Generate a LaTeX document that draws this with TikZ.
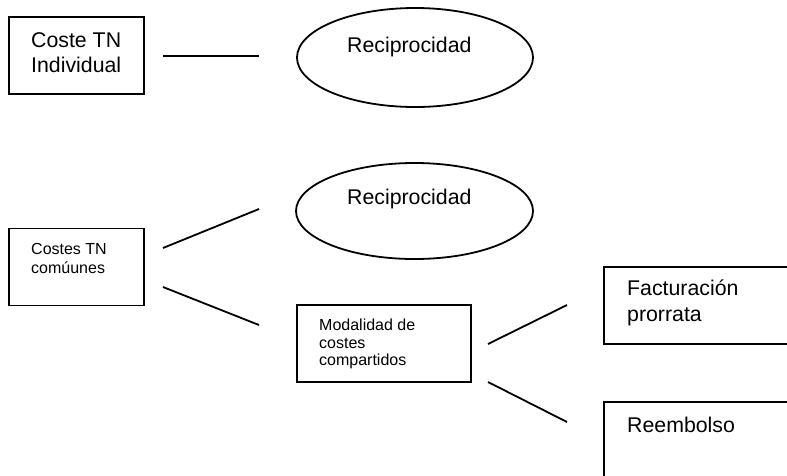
\documentclass[tikz,border=0pt]{standalone}
\usepackage{fontspec}
\setmainfont{Liberation Sans}
\usetikzlibrary{shapes.geometric}
\tikzset{
  box/.style={draw, line width=1.8pt, rectangle, inner sep=0pt},
  oval/.style={draw, line width=1.8pt, ellipse, inner sep=0pt},
  conn/.style={line width=1.8pt},
  big/.style={anchor=base west, inner sep=0pt, font=\fontsize{21.3}{24}\selectfont},
  small/.style={anchor=base west, inner sep=0pt, font=\fontsize{16}{18}\selectfont},
}
\begin{document}
\begin{tikzpicture}[x=1pt,y=-1pt]
\useasboundingbox (0,0) rectangle (787,475);
\clip (0,0) rectangle (787,475);
% shapes
\node[box, minimum width=135pt, minimum height=77pt] (b1) at (76.5,55.5) {};
\node[oval, minimum width=236pt, minimum height=99pt] (e1) at (415,57.5) {};
\node[box, minimum width=135pt, minimum height=77pt] (b2) at (76.5,267) {};
\node[oval, minimum width=237pt, minimum height=96pt] (e2) at (414.5,211) {};
\node[box, minimum width=174pt, minimum height=77pt] (b3) at (384,343.5) {};
\node[box, minimum width=200pt, minimum height=77pt] (b4) at (704,305.5) {};
\node[box, minimum width=200pt, minimum height=100pt] (b5) at (704,452) {};
% texts
\node[big] (t1a) at (31,47.5) {Coste TN};
\node[big] (t1b) at (31,72.5) {Individual};
\node[big] (t2) at (347,52) {Reciprocidad};
\node[big] (t3) at (347,204) {Reciprocidad};
\node[small] (t4a) at (31,254) {Costes TN};
\node[small] (t4b) at (31,273) {comúunes};
\node[small] (t5a) at (319,330) {Modalidad de};
\node[small] (t5b) at (319,348) {costes};
\node[small] (t5c) at (319,365.5) {compartidos};
\node[big] (t6a) at (627,295) {Facturación};
\node[big] (t6b) at (627,321) {prorrata};
\node[big] (t7) at (627,432) {Reembolso};
% connector ends
\coordinate (c1a) at (163,56);  \coordinate (c1b) at (259,56);
\coordinate (c2a) at (163,248); \coordinate (c2b) at (259,209);
\coordinate (c3a) at (163,287); \coordinate (c3b) at (259,325);
\coordinate (c4a) at (488,344); \coordinate (c4b) at (567,305);
\coordinate (c5a) at (488,382); \coordinate (c5b) at (567,422);
\draw[conn] (c1a) -- (c1b);
\draw[conn] (c2a) -- (c2b);
\draw[conn] (c3a) -- (c3b);
\draw[conn] (c4a) -- (c4b);
\draw[conn] (c5a) -- (c5b);
\end{tikzpicture}
\end{document}
